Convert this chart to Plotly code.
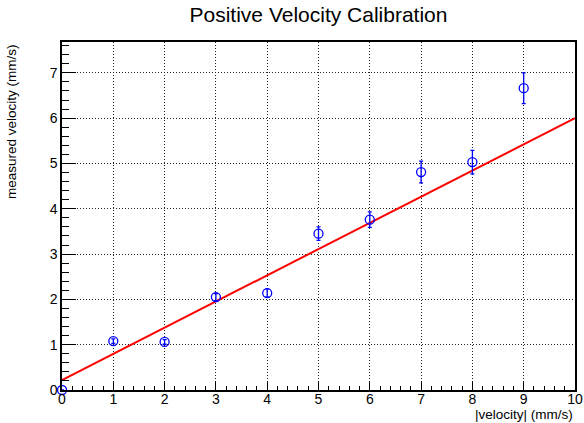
import plotly.graph_objects as go

velocity = [0, 1, 2, 3, 4, 5, 6, 7, 8, 9]
measured = [0.0, 1.08, 1.06, 2.05, 2.14, 3.45, 3.76, 4.81, 5.03, 6.66]
errors = [0.0, 0.05, 0.05, 0.08, 0.09, 0.15, 0.17, 0.24, 0.26, 0.34]

fit_intercept = 0.22
fit_slope = 0.578
fit_x = [0, 10]
fit_y = [fit_intercept + fit_slope * x for x in fit_x]

FONT = "Liberation Sans, Arial, Helvetica, sans-serif"

fig = go.Figure()
fig.add_trace(go.Scatter(
    x=fit_x, y=fit_y, mode="lines",
    line=dict(color="#ff0000", width=2), showlegend=False, hoverinfo="skip"))
fig.add_trace(go.Scatter(
    x=velocity, y=measured, mode="markers",
    marker=dict(symbol="circle-open", size=9, color="#0000ff", line=dict(width=1.3, color="#0000ff")),
    error_y=dict(type="data", array=errors, visible=True, color="#0000ff", thickness=1.3, width=2),
    cliponaxis=False, showlegend=False))

axis_common = dict(
    showline=True, linecolor="black", linewidth=1.5, mirror=True,
    showgrid=True, gridcolor="#222222", griddash="1px,2px", gridwidth=1,
    zeroline=False, ticks="inside", tickcolor="black", automargin=False,
    tickfont=dict(family=FONT, size=14, color="black"),
)

fig.update_layout(
    width=584, height=423,
    margin=dict(l=62, r=9, t=42, b=33),
    paper_bgcolor="white", plot_bgcolor="white",
    title=dict(text="Positive Velocity Calibration", x=(62 + 575) / 2 / 584, xanchor="center",
               y=1 - 15 / 423, yanchor="middle",
               font=dict(family=FONT, size=21, color="black")),
    xaxis=dict(range=[0, 10], dtick=1, tick0=0, ticklen=8, ticklabelstandoff=-5,
               minor=dict(ticks="inside", dtick=0.2, ticklen=4, tickcolor="black", showgrid=False),
               **axis_common),
    yaxis=dict(range=[0, 7.68], dtick=1, tick0=0, ticklen=14,
               minor=dict(ticks="inside", dtick=0.2, ticklen=7, tickcolor="black", showgrid=False),
               **axis_common),
    annotations=[
        dict(text="|velocity| (mm/s)", xref="paper", yref="paper", x=1, y=0,
             xanchor="right", yanchor="top", yshift=-15, showarrow=False,
             font=dict(family=FONT, size=13.5, color="black")),
        dict(text="measured velocity (mm/s)", xref="paper", yref="paper", x=0, y=1,
             xanchor="left", yanchor="top", xshift=-60, textangle=-90, showarrow=False,
             font=dict(family=FONT, size=13.5, color="black")),
    ],
)

fig.write_html("out.html")
